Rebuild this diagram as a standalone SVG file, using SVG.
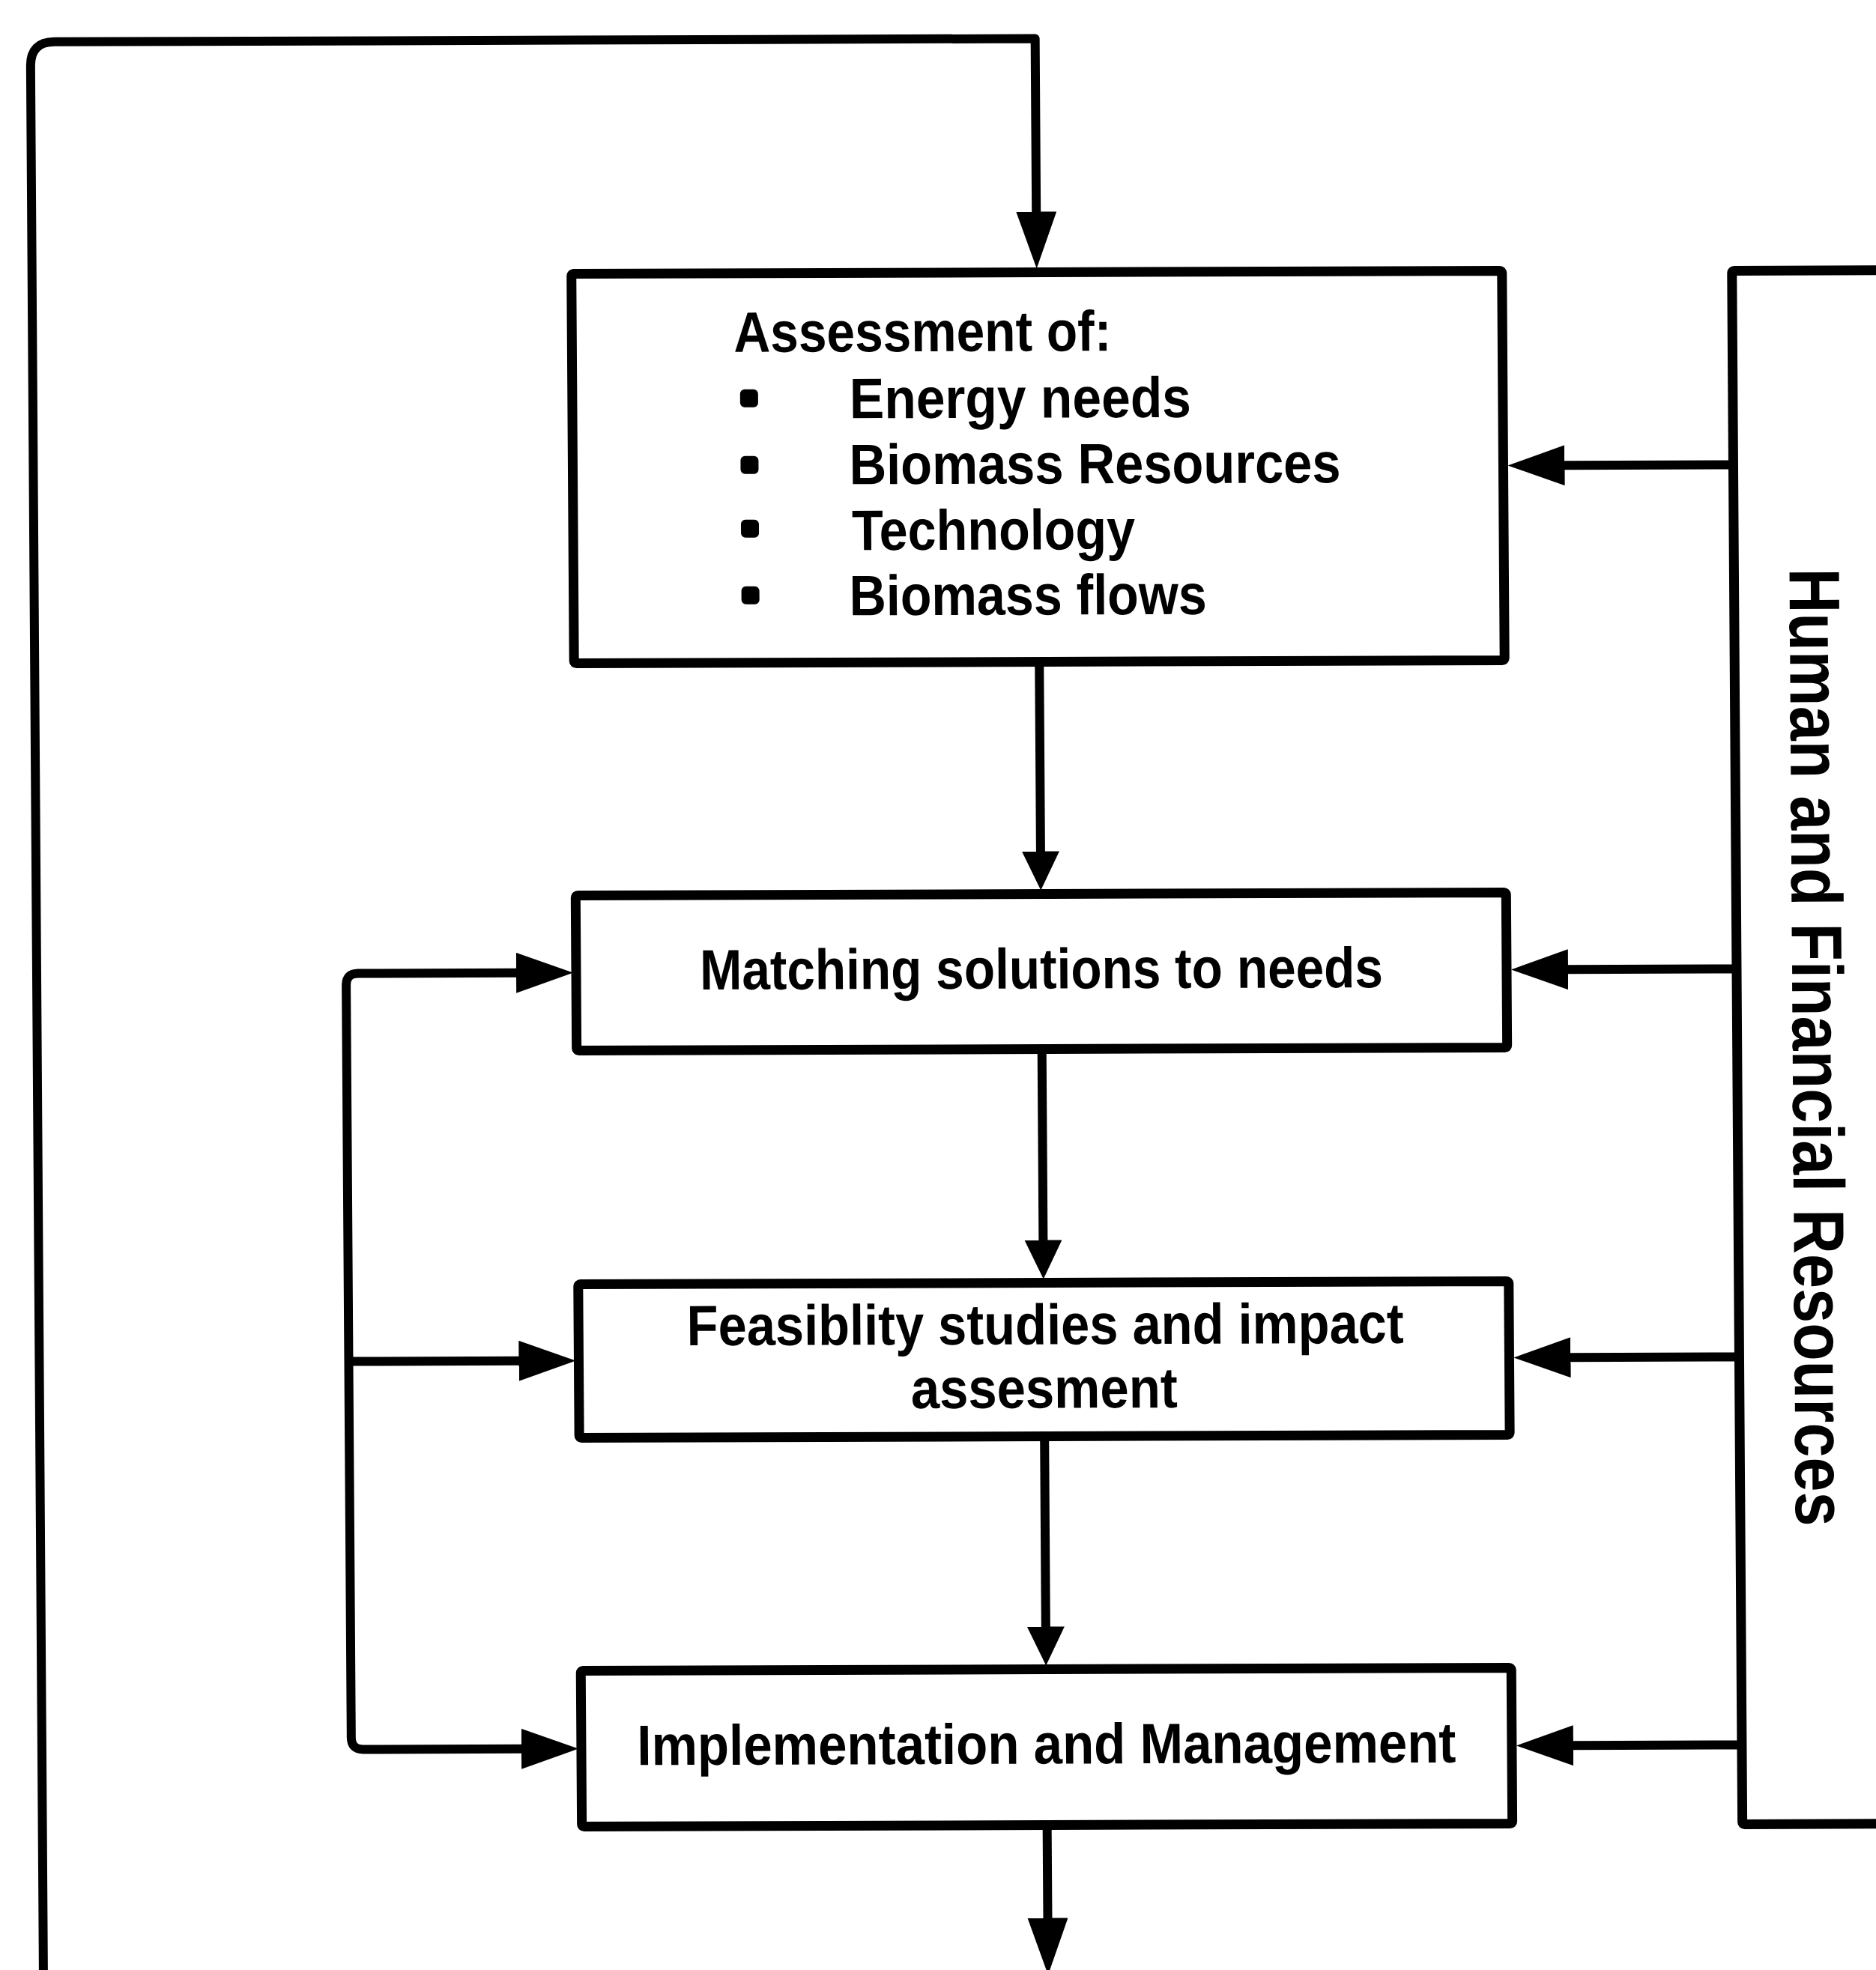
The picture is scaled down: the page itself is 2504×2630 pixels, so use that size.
<svg xmlns="http://www.w3.org/2000/svg" width="2504" height="2630" viewBox="0 0 2504 2630">
  <style>
    .box { fill: #ffffff; stroke: #000000; stroke-width: 13; stroke-linejoin: round; }
    .wire { fill: none; stroke: #000000; stroke-width: 12; stroke-linejoin: round; }
    .label { font-family: "Liberation Sans", Arial, Helvetica, sans-serif; font-size: 76px; font-weight: bold; fill: #000000; }
    .side { font-family: "Liberation Sans", Arial, Helvetica, sans-serif; font-size: 96px; font-weight: bold; fill: #000000; }
    .bullet { fill: #000000; }
  </style>
  <defs>
    <marker id="headLong" markerUnits="userSpaceOnUse" markerWidth="76" markerHeight="54" viewBox="0 0 76 54" refX="1" refY="27" orient="auto-start-reverse">
      <path d="M0,0 L76,27 L0,54 Z" fill="#000000"/>
    </marker>
    <marker id="headShort" markerUnits="userSpaceOnUse" markerWidth="52" markerHeight="50" viewBox="0 0 52 50" refX="1" refY="25" orient="auto-start-reverse">
      <path d="M0,0 L52,25 L0,50 Z" fill="#000000"/>
    </marker>
  </defs>
  <rect x="0" y="0" width="2504" height="2630" fill="#ffffff"/>

  <!-- whole sheet sits slightly skewed on the page -->
  <g transform="matrix(1 -0.0033 0.0067 1 -8.7 4.1)">

    <g id="connectors">
      <!-- feedback loop from the bottom back up to the assessment -->
      <path class="wire" d="M49 2700 V84 Q49 52 81 52 H1390 V284" marker-end="url(#headLong)"/>
      <!-- main downward chain -->
      <path class="wire" d="M1390 890 V1138" marker-end="url(#headShort)"/>
      <path class="wire" d="M1390 1407 V1657" marker-end="url(#headShort)"/>
      <path class="wire" d="M1390 1924 V2173" marker-end="url(#headShort)"/>
      <path class="wire" d="M1390 2443 V2562" marker-end="url(#headLong)"/>
      <!-- left-hand bus feeding the three lower stages -->
      <path class="wire" d="M690 1297 H478 Q462 1297 462 1313 V2317 Q462 2333 478 2333 H690" marker-start="url(#headLong)" marker-end="url(#headLong)"/>
      <path class="wire" d="M462 1815 H690" marker-end="url(#headLong)"/>
      <!-- resources feeding every stage -->
      <path class="wire" d="M2318 624 H2092" marker-end="url(#headLong)"/>
      <path class="wire" d="M2318 1297 H2092" marker-end="url(#headLong)"/>
      <path class="wire" d="M2318 1815 H2092" marker-end="url(#headLong)"/>
      <path class="wire" d="M2318 2333 H2092" marker-end="url(#headLong)"/>
    </g>

    <g id="assessment">
      <rect class="box" x="769" y="364" width="1242" height="520" rx="3"/>
      <text class="label" x="985" y="469" textLength="504" lengthAdjust="spacingAndGlyphs">Assessment of:</text>
      <rect class="bullet" x="993" y="519" width="24" height="24" rx="6"/>
      <text class="label" x="1139" y="558" textLength="456" lengthAdjust="spacingAndGlyphs">Energy needs</text>
      <rect class="bullet" x="993" y="608" width="24" height="24" rx="6"/>
      <text class="label" x="1138" y="646" textLength="656" lengthAdjust="spacingAndGlyphs">Biomass Resources</text>
      <rect class="bullet" x="993" y="693" width="24" height="24" rx="6"/>
      <text class="label" x="1141" y="734" textLength="378" lengthAdjust="spacingAndGlyphs">Technology</text>
      <rect class="bullet" x="993" y="782" width="24" height="24" rx="6"/>
      <text class="label" x="1137" y="821" textLength="477" lengthAdjust="spacingAndGlyphs">Biomass flows</text>
    </g>

    <g id="matching">
      <rect class="box" x="769" y="1194" width="1242" height="207" rx="3"/>
      <text class="label" x="1390" y="1320" text-anchor="middle" textLength="912" lengthAdjust="spacingAndGlyphs">Matching solutions to needs</text>
    </g>

    <g id="feasibility">
      <rect class="box" x="769" y="1713" width="1242" height="205" rx="3"/>
      <text class="label" x="1392" y="1795" text-anchor="middle" textLength="957" lengthAdjust="spacingAndGlyphs">Feasiblity studies and impact</text>
      <text class="label" x="1390" y="1880" text-anchor="middle" textLength="356" lengthAdjust="spacingAndGlyphs">assesment</text>
    </g>

    <g id="implementation">
      <rect class="box" x="769" y="2229" width="1242" height="208" rx="3"/>
      <text class="label" x="1390" y="2355" text-anchor="middle" textLength="1093" lengthAdjust="spacingAndGlyphs">Implementation and Management</text>
    </g>

    <g id="resources">
      <rect class="box" x="2318" y="365" width="400" height="2074" rx="3"/>
      <text class="side" x="2392" y="1402" text-anchor="middle" textLength="1279" lengthAdjust="spacingAndGlyphs" transform="rotate(90 2392 1402)">Human and Financial Resources</text>
    </g>
  </g>
</svg>
